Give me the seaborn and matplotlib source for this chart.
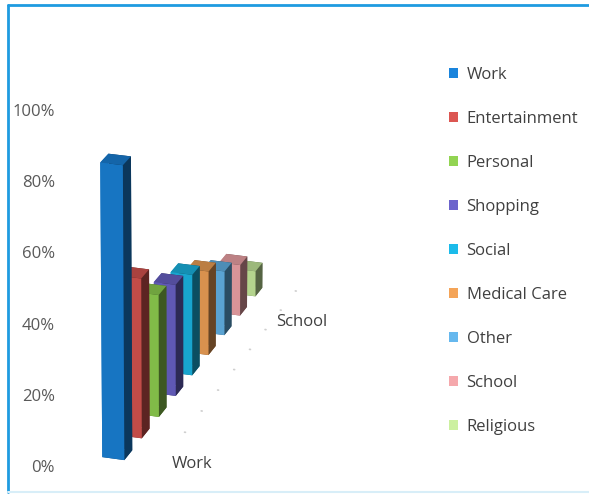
import matplotlib
matplotlib.use("Agg")
import matplotlib.pyplot as plt
import seaborn as sns
from matplotlib.patches import Patch
from matplotlib.lines import Line2D

# Share of trips by purpose
purposes = ["Work", "Entertainment", "Personal", "Shopping", "Social",
            "Medical Care", "Other", "School", "Religious"]
shares = [87, 48, 37, 34, 31, 26, 20, 16, 8]
colors = ["#1a84dc", "#dc5652", "#92d452", "#6c64cc", "#1bbbea",
          "#f4a458", "#66b8ee", "#f5a8ac", "#ccf0a0"]
value_ticks = [0, 20, 40, 60, 80, 100]
depth_labels = ["Work", "School"]

sns.set_theme(style="white")
plt.rcParams["font.family"] = ["Open Sans", "DejaVu Sans"]

fig = plt.figure(figsize=(5.89, 4.97), dpi=100)

# 3-D columns, one per purpose, receding in depth
ax = fig.add_axes([-0.2455, -0.077, 1.1, 1.3], projection="3d")
ax.set_proj_type("persp", focal_length=1.5)
ax.view_init(elev=22, azim=-72)

bar_w, bar_d = 0.5, 0.45
for i, (val, col) in enumerate(zip(shares, colors)):
    ax.bar3d(0, i + 0.1, 0, bar_w, bar_d, val, color=col, shade=True,
             edgecolor="none")

ax.set_xlim(-0.8, 1.3)
ax.set_ylim(0, len(purposes))
ax.set_zlim(0, 100)
ax.set_box_aspect((2.1, 10.6, 7.8), zoom=0.91)

for axis in (ax.xaxis, ax.yaxis, ax.zaxis):
    axis.set_pane_color((1, 1, 1, 0))
    axis.line.set_color((1, 1, 1, 0))
    axis._axinfo["tick"]["inward_factor"] = 0.0
    axis._axinfo["tick"]["outward_factor"] = 0.12
ax.grid(False)
ax.tick_params(axis="both", color="#cfcfcf")

ax.set_xticks([])
ax.set_zticks([])
ax.set_yticks([i + 1.6 for i in range(len(purposes) - 1)])
ax.set_yticklabels([n if n in depth_labels else "" for n in purposes[:-1]],
                   fontsize=12, color="#404040")
ax.yaxis.set_ticks_position("lower")
ax.yaxis.set_tick_params(pad=9)

# value axis on the front plane
vax = fig.add_axes([0.124, 0.0624, 0.001, 0.7163])
vax.set_ylim(0, 100)
vax.set_yticks(value_ticks)
vax.set_yticklabels([f"{v}%" for v in value_ticks])
vax.set_xticks([])
vax.tick_params(axis="y", length=5, color="#d0d0d0", pad=8,
                labelsize=12, labelcolor="#595959")
sns.despine(ax=vax, left=True, bottom=True)
vax.patch.set_alpha(0)

handles = [Patch(facecolor=c, edgecolor="none") for c in colors]
leg = fig.legend(handles, purposes, loc="upper left",
                 bbox_to_anchor=(0.737, 0.895), frameon=False,
                 fontsize=12, handlelength=0.55, handleheight=0.55,
                 handletextpad=0.5, labelspacing=1.68)
for t in leg.get_texts():
    t.set_color("#404040")

# chart border
fig.add_artist(Line2D([0.014, 1.0], [0.99, 0.99], color="#1e9be0", lw=2,
                      transform=fig.transFigure))
fig.add_artist(Line2D([0.014, 0.014], [0.01, 0.99], color="#1e9be0", lw=2,
                      transform=fig.transFigure))
fig.add_artist(Line2D([0.014, 1.0], [0.01, 0.01], color="#d8eef8", lw=1.5,
                      transform=fig.transFigure))

fig.savefig("out.png", dpi=100)
